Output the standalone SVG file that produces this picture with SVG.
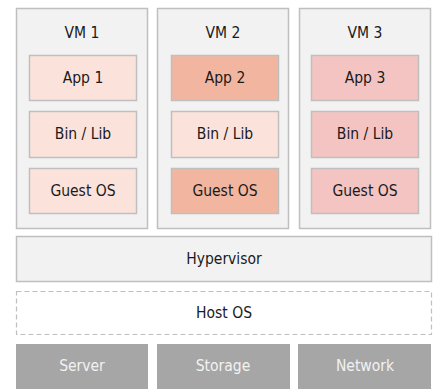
<svg xmlns="http://www.w3.org/2000/svg" width="439" height="389" viewBox="0 0 439 389">
<style>
.vm{fill:#f2f2f2;stroke:#bfbfbf;stroke-width:1.5}
.l1{fill:#fbe3dc;stroke:#bfbfbf;stroke-width:1.5}
.l2{fill:#f2b6a0;stroke:#bfbfbf;stroke-width:1.5}
.l3{fill:#f4c4c2;stroke:#bfbfbf;stroke-width:1.5}
.hv{fill:#f2f2f2;stroke:#bfbfbf;stroke-width:1.5}
.host{fill:#ffffff;stroke:#bfbfbf;stroke-width:1.2;stroke-dasharray:5 3}
.hw{fill:#a6a6a6}
text{font-family:"DejaVu Sans Condensed","DejaVu Sans",sans-serif;font-stretch:condensed;font-size:15.5px;fill:#1a1a1a;text-anchor:middle;dominant-baseline:central}
.hwt{fill:#f2f2f2}
</style>
<g id="vm1">
<rect class="vm" x="16.5" y="8.5" width="131" height="220"/>
<text x="82" y="33">VM 1</text>
<rect class="l1" x="29.5" y="55.5" width="107" height="45"/>
<text x="83" y="78">App 1</text>
<rect class="l1" x="29.5" y="111.5" width="107" height="46"/>
<text x="83" y="134">Bin / Lib</text>
<rect class="l1" x="29.5" y="168.5" width="107" height="45"/>
<text x="83" y="191">Guest OS</text>
</g>
<g id="vm2">
<rect class="vm" x="157.5" y="8.5" width="131" height="220"/>
<text x="223" y="33">VM 2</text>
<rect class="l2" x="171.5" y="55.5" width="107" height="45"/>
<text x="225" y="78">App 2</text>
<rect class="l1" x="171.5" y="111.5" width="107" height="46"/>
<text x="225" y="134">Bin / Lib</text>
<rect class="l2" x="171.5" y="168.5" width="107" height="45"/>
<text x="225" y="191">Guest OS</text>
</g>
<g id="vm3">
<rect class="vm" x="299.5" y="8.5" width="131" height="220"/>
<text x="365" y="33">VM 3</text>
<rect class="l3" x="311.5" y="55.5" width="107" height="45"/>
<text x="365" y="78">App 3</text>
<rect class="l3" x="311.5" y="111.5" width="107" height="46"/>
<text x="365" y="134">Bin / Lib</text>
<rect class="l3" x="311.5" y="168.5" width="107" height="45"/>
<text x="365" y="191">Guest OS</text>
</g>
<g id="hypervisor">
<rect class="hv" x="16.5" y="236.5" width="415" height="45"/>
<text x="224" y="259">Hypervisor</text>
</g>
<g id="hostos">
<rect class="host" x="16.5" y="291.5" width="415" height="43"/>
<text x="224" y="313">Host OS</text>
</g>
<g id="server">
<rect class="hw" x="16" y="344" width="132" height="45"/>
<text class="hwt" x="82" y="366">Server</text>
</g>
<g id="storage">
<rect class="hw" x="157" y="344" width="133" height="45"/>
<text class="hwt" x="223" y="366">Storage</text>
</g>
<g id="network">
<rect class="hw" x="298" y="344" width="133" height="45"/>
<text class="hwt" x="365" y="366">Network</text>
</g>
<g id="connectors"/>
</svg>
